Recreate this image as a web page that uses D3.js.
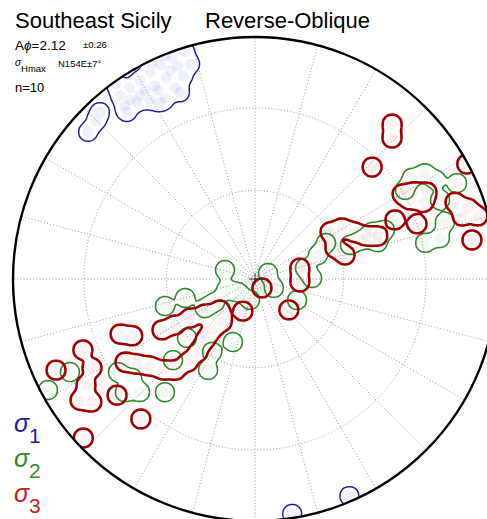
<!DOCTYPE html>
<html><head><meta charset="utf-8">
<script src="https://cdn.jsdelivr.net/npm/d3@7"></script>
<style>body{margin:0;background:#fff}svg{display:block}</style>
</head><body>
<svg id="chart" width="487" height="519"></svg>
<script>
// ---------- data ----------
const titleText = "Southeast Sicily";
const regimeText = "Reverse-Oblique";
const aphiValue = "2.12";
const aphiError = "±0.26";
const shmaxValue = "N154E±7°";
const nText = "n=10";
const seriesNames = ["1", "2", "3"];
const gridPlunges = [30, 60];
const gridTrends = [0,15,30,45,60,75,90,105,120,135,150,165,180,195,210,225,240,255,270,285,300,315,330,345];

// sigma 1 (trend, plunge in degrees)
const s1Trend  = [323.7,326.8,330.0,333.1,336.1,339.4,342.9,343.2,340.5,337.3,333.6,329.6,326.3,323.1,332.6,336.1,329.8,311.4,314.8,317.1,171.0,156.5,
                  337.9,332.8,328.0,340.1,325.1,324.5,334.5,338.0,338.1,331.8,322.5];
const s1Plunge = [6.4,6.3,5.7,4.7,3.8,2.8,2.1,8.0,12.0,15.5,17.6,15.3,13.1,11.5,11.1,10.1,10.6,8.9,8.2,6.5,2.0,2.5,
                  7.6,13.3,11.3,7.2,10.7,1.0,1.2,0.8,17.9,18.1,14.1];
// sigma 2
const s2Trend  = [57.2,58.1,61.3,64.6,66.9,73.3,77.5,78.0,68.1,69.3,73.3,70.0,63.1,59.3,77.6,89.0,116.6,115.3,65.2,286.7,69.1,70.3,
                  253.3,254.8,239.9,240.1,249.2,232.6,193.4,229.1,210.5,225.3,207.3,199.3,235.8,231.2,225.5,229.0,218.5,243.3,241.8];
const s2Plunge = [23.9,18.4,15.9,8.4,18.0,19.2,22.8,28.9,46.8,42.1,46.0,51.1,63.1,28.7,72.8,70.8,74.2,83.0,85.2,79.5,67.3,55.7,
                  58.1,65.6,70.5,74.5,79.6,82.8,82.8,59.5,61.4,50.6,55.2,67.5,32.1,35.1,33.8,29.5,40.0,15.5,3.3];
// sigma 3
const s3Trend  = [41.5,44.2,46.3,61.5,60.0,61.3,63.2,63.0,65.5,69.0,71.6,74.2,73.1,79.8,67.1,71.2,57.9,59.6,64.6,68.8,70.7,68.8,75.1,
                  76.3,93.8,142.1,132.4,200.6,247.8,245.1,247.6,245.4,241.4,237.9,235.3,233.0,229.9,219.2,227.2,
                  237.4,234.2,230.4,225.3,221.0,218.9,218.0,219.3,220.1,217.5,241.3,240.1,239.0,235.0,228.5];
const s3Plunge = [15.6,19.9,33.5,0.5,30.5,26.0,21.5,28.8,24.3,12.5,8.0,4.8,11.5,9.8,37.3,30.0,60.0,55.7,52.6,49.3,45.3,61.0,58.4,
                  74.5,74.9,86.2,74.6,78.5,39.6,43.6,24.1,10.5,24.3,18.7,13.1,16.7,26.4,26.3,3.7,
                  36.4,39.7,43.0,45.6,48.7,53.7,58.6,63.4,67.5,71.8,53.9,58.7,64.4,69.5,74.3];

// ---------- layout ----------
const W = 487, H = 519;
const cx = 255, cy = 279, R = 242;
const colors = { s1: "#1e22a0", s2: "#2f8a2f", s3: "#a00000" };
const legendColors = ["#1e22a0", "#2f8a2f", "#cc1a1a"];

const svg = d3.select("#chart");
const rScale = d3.scaleSqrt().domain([0, 1]).range([0, R]);          // equal-area: r ~ sqrt(1 - sin(plunge))
const aScale = d3.scaleLinear().domain([0, 360]).range([0, 2 * Math.PI]);
const rad = d => d * Math.PI / 180;
function project(trend, plunge) {
  const r = rScale(1 - Math.sin(rad(plunge)));
  const a = aScale(trend);
  return [cx + r * Math.sin(a), cy - r * Math.cos(a)];
}
function pts(tr, pl) { return tr.map((t, i) => project(t, pl[i])); }

const defs = svg.append("defs");
defs.append("clipPath").attr("id", "net").append("circle").attr("cx", cx).attr("cy", cy).attr("r", R);

// grid
const grid = svg.append("g").attr("fill", "none").attr("stroke", "#8c8c8c")
  .attr("stroke-width", 0.9).attr("stroke-dasharray", "1,2.2");
gridPlunges.forEach(p => grid.append("circle").attr("cx", cx).attr("cy", cy)
  .attr("r", rScale(1 - Math.sin(rad(p)))));
gridTrends.forEach(t => {
  const [x, y] = project(t, 0);
  grid.append("line").attr("x1", cx).attr("y1", cy).attr("x2", x).attr("y2", y);
});

const sets = [
  { key: "s1", data: pts(s1Trend, s1Plunge), dot: "#5a6ae0", dotOp: 0.10, sw: 1.5 },
  { key: "s2", data: pts(s2Trend, s2Plunge), dot: "#70b870", dotOp: 0.09, sw: 1.6 },
  { key: "s3", data: pts(s3Trend, s3Plunge), dot: "#e07070", dotOp: 0.09, sw: 2.6 }
];

const plot = svg.append("g").attr("clip-path", "url(#net)");
// faint sample dots
sets.forEach(s => {
  plot.append("g").selectAll("circle").data(s.data).join("circle")
    .attr("cx", d => d[0]).attr("cy", d => d[1]).attr("r", 5.5)
    .attr("fill", s.dot).attr("fill-opacity", s.dotOp);
});
// density contours
const path = d3.geoPath();
sets.forEach(s => {
  const dens = d3.contourDensity().x(d => d[0]).y(d => d[1])
    .size([W, H]).cellSize(1).bandwidth(5).thresholds([0.0012]);
  plot.append("g").selectAll("path").data(dens(s.data)).join("path")
    .attr("d", path).attr("fill", "none").attr("stroke", colors[s.key])
    .attr("stroke-width", s.sw).attr("stroke-linejoin", "round");
});

// primitive circle
svg.append("circle").attr("cx", cx).attr("cy", cy).attr("r", R)
  .attr("fill", "none").attr("stroke", "#000").attr("stroke-width", 2.4);
// centre cross
svg.append("path").attr("d", `M${cx-6},${cy}H${cx+6}M${cx},${cy-6}V${cy+6}`)
  .attr("stroke", "#333").attr("stroke-width", 1);

// texts
const font = "Arial, 'Liberation Sans', sans-serif";
svg.append("text").attr("x", 15).attr("y", 28).attr("font-family", font).attr("font-size", 22).text(titleText);
svg.append("text").attr("x", 205).attr("y", 28).attr("font-family", font).attr("font-size", 22).text(regimeText);
const t1 = svg.append("text").attr("x", 15).attr("y", 50).attr("font-family", font).attr("font-size", 13.5);
t1.append("tspan").text("A");
t1.append("tspan").attr("font-style", "italic").text("ϕ");
t1.append("tspan").text("=" + aphiValue);
svg.append("text").attr("x", 83).attr("y", 48).attr("font-family", font).attr("font-size", 9.5).text(aphiError);
const t2 = svg.append("text").attr("x", 15).attr("y", 66).attr("font-family", font).attr("font-size", 10);
t2.append("tspan").attr("font-style", "italic").text("σ");
t2.append("tspan").attr("dy", 6).attr("font-size", 9.5).text("Hmax");
svg.append("text").attr("x", 58).attr("y", 67).attr("font-family", font).attr("font-size", 9.5).text(shmaxValue);
svg.append("text").attr("x", 15).attr("y", 92).attr("font-family", font).attr("font-size", 13).text(nText);

// legend
seriesNames.forEach((n, i) => {
  const t = svg.append("text").attr("x", 14).attr("y", 432 + i * 35).attr("font-family", font).attr("fill", legendColors[i]);
  t.append("tspan").attr("font-size", 25).attr("font-style", "italic").text("σ");
  t.append("tspan").attr("font-size", 21).attr("dy", 11).text(n);
});
</script>
</body></html>
